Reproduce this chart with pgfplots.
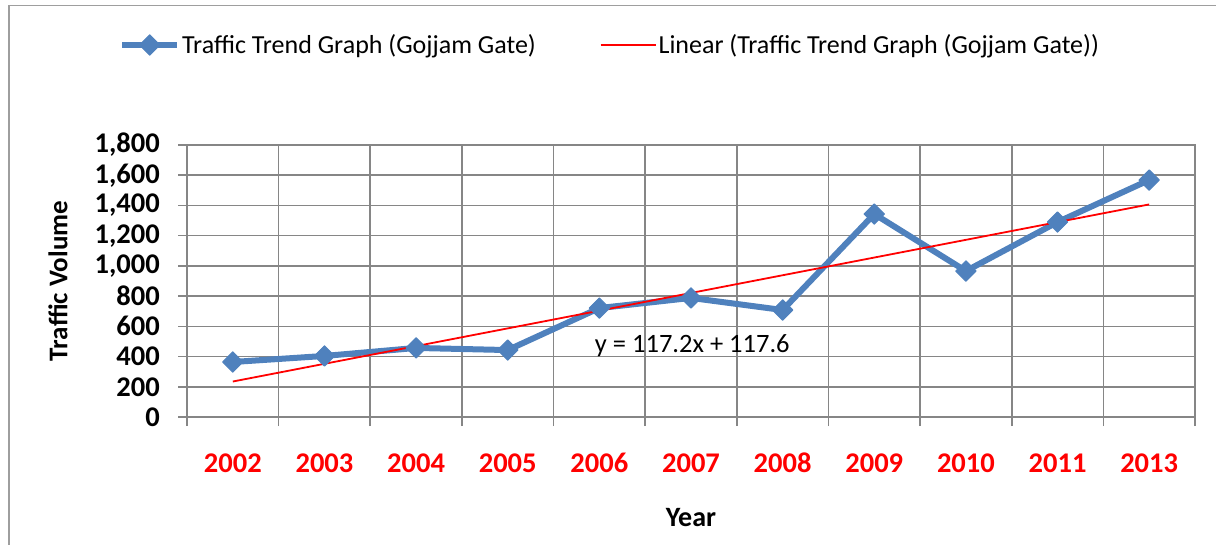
\documentclass[border=0pt]{standalone}
\usepackage{pgfplots}
\pgfplotsset{compat=1.18}
\usepackage{fontspec}
\setmainfont{Carlito}
\definecolor{serblue}{RGB}{79,129,189}
\definecolor{gridgray}{RGB}{134,134,134}
\begin{document}
\begin{tikzpicture}
\useasboundingbox (0pt,0pt) rectangle (1216pt,544pt);
\clip (0pt,0pt) rectangle (1216pt,544pt);
\draw[gridgray!80, line width=1.5pt] (9pt,-10pt) -- (9pt,538.5pt) -- (1230pt,538.5pt);
\begin{axis}[
  at={(187pt,127pt)}, anchor=south west,
  scale only axis, width=1008pt, height=272pt,
  xmin=0.5, xmax=11.5, ymin=0, ymax=1800,
  xtick={0.5,1.5,...,11.5},
  xticklabels={},
  extra x ticks={1,...,11},
  extra x tick labels={2002,2003,2004,2005,2006,2007,2008,2009,2010,2011,2013},
  extra x tick style={xmajorgrids=false, major tick length=0pt, tick style={draw=none}},
  xticklabel style={font=\fontsize{28.5}{30}\selectfont\bfseries, text=red, anchor=base, yshift=-55pt},
  xmajorgrids=true, ymajorgrids=true,
  ytick={0,200,...,1800},
  tick align=outside,
  major tick length=9pt,
  xtick pos=bottom, ytick pos=left,
  axis line style={gridgray, line width=1.6pt},
  grid style={gridgray, line width=1.6pt},
  major grid style={gridgray, line width=1.6pt},
  tick style={gridgray, line width=1.6pt},
  /pgf/number format/assume math mode=true,
  /pgf/number format/1000 sep={,},
  scaled y ticks=false,
  yticklabel style={font=\fontsize{28.5}{30}\selectfont\bfseries, inner xsep=4pt, xshift=-14pt},
  xlabel={Year},
  xlabel style={font=\fontsize{28}{30}\selectfont\bfseries, at={(axis description cs:0.5,-0.371)}, anchor=center},
  ylabel={Traffic Volume},
  ylabel style={font=\fontsize{27}{30}\selectfont\bfseries, at={(axis description cs:-0.128,0.5)}, anchor=center},
  legend columns=2,
  legend style={draw=none, fill=none, at={(axis description cs:-0.0675,1.3676)}, anchor=west,
    font=\fontsize{26}{30}\selectfont, inner xsep=0pt, inner ysep=0pt,
    nodes={inner xsep=2pt},
    /tikz/every even column/.append style={column sep=62pt}},
  legend image code/.code={\draw[mark repeat=2,mark phase=2,#1] plot coordinates {(0pt,0pt) (27.5pt,0pt) (55pt,0pt)};},
]
\addplot[serblue, line width=6pt, line join=round, mark=square*, mark size=7.2pt,
  mark options={rotate=45, solid, line width=1pt}]
  coordinates {(1,364)(2,404)(3,457)(4,443)(5,721)(6,788)(7,708)(8,1343)(9,966)(10,1290)(11,1568)};
\addlegendentry{Traffic Trend Graph (Gojjam Gate)}
\addplot[red, line width=1.8pt] coordinates {(1,234.8)(11,1406.8)};
\addlegendentry{Linear (Traffic Trend Graph (Gojjam Gate))}
\node[anchor=base west, font=\fontsize{26.5}{30}\selectfont, inner sep=0pt] at (axis cs:4.95,430) {y = 117.2x + 117.6};
\end{axis}
\end{tikzpicture}
\end{document}
